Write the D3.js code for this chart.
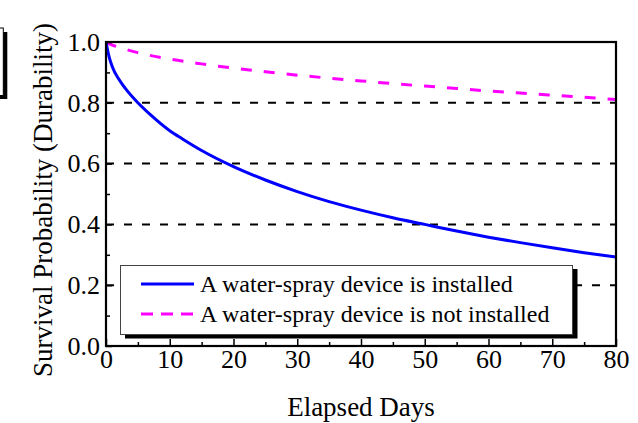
<!DOCTYPE html>
<html>
<head>
<meta charset="utf-8">
<script src="https://cdn.jsdelivr.net/npm/d3@7"></script>
<style>
  body { margin: 0; background: #fff; }
  svg { display: block; }
  svg text { font-family: "Liberation Serif", "Times New Roman", serif !important; fill: #000; }
</style>
</head>
<body>
<svg id="chart" width="638" height="423"></svg>
<script>
// Values
const daysInstalled = [0, 0.5, 1, 2, 3, 5, 7, 10, 12, 15, 20, 25, 30, 35, 40, 45, 50, 55, 60, 65, 70, 75, 80];
const survivalInstalled = [1.0, 0.95, 0.918, 0.878, 0.848, 0.80, 0.76, 0.708, 0.681, 0.643, 0.59, 0.546, 0.508, 0.475, 0.447, 0.422, 0.40, 0.378, 0.358, 0.340, 0.323, 0.307, 0.293];

const daysNotInstalled = [0, 1, 2, 5, 10, 15, 20, 25, 30, 35, 40, 45, 50, 55, 60, 65, 70, 75, 80];
const survivalNotInstalled = [1.0, 0.99, 0.983, 0.965, 0.944, 0.928, 0.914, 0.902, 0.891, 0.881, 0.872, 0.863, 0.855, 0.847, 0.839, 0.832, 0.825, 0.818, 0.811];

const xTicks = [0, 10, 20, 30, 40, 50, 60, 70, 80];
const yTicks = [0.0, 0.2, 0.4, 0.6, 0.8, 1.0];
const gridValues = [0.2, 0.4, 0.6, 0.8];

const seriesNames = ["A water-spray device is installed", "A water-spray device is not installed"];
const seriesColors = ["#0000ff", "#ff00ff"];

const serif = "'Liberation Serif', 'Times New Roman', serif";

const svg = d3.select("#chart");

// plot area in pixels
const plotLeft = 106, plotRight = 616, plotTop = 42, plotBottom = 346;

const x = d3.scaleLinear().domain([0, 80]).range([plotLeft, plotRight]);
const y = d3.scaleLinear().domain([0, 1]).range([plotBottom, plotTop]);

// clipped box at the far left edge of the original figure
svg.append("rect")
    .attr("x", -20).attr("y", 32).attr("width", 27.3).attr("height", 67)
    .attr("fill", "#000");
svg.append("rect")
    .attr("x", -20).attr("y", 28).attr("width", 23.3).attr("height", 67.5)
    .attr("fill", "#fff").attr("stroke", "#000").attr("stroke-width", 1);

svg.append("clipPath").attr("id", "plotClip")
  .append("rect")
    .attr("x", plotLeft).attr("y", plotTop)
    .attr("width", plotRight - plotLeft).attr("height", plotBottom - plotTop);

// dashed gridlines
svg.selectAll(".grid")
    .data(gridValues)
    .enter().append("line")
    .attr("class", "grid")
    .attr("x1", plotLeft).attr("x2", plotRight)
    .attr("y1", d => y(d)).attr("y2", d => y(d))
    .attr("stroke", "#000")
    .attr("stroke-width", 2)
    .attr("stroke-dasharray", "8,10");

// curves
const line = d3.line()
    .x(d => x(d[0]))
    .y(d => y(d[1]))
    .curve(d3.curveMonotoneX);

const installed = daysInstalled.map((d, i) => [d, survivalInstalled[i]]);
const notInstalled = daysNotInstalled.map((d, i) => [d, survivalNotInstalled[i]]);

const plot = svg.append("g").attr("clip-path", "url(#plotClip)");

plot.append("path")
    .datum(notInstalled)
    .attr("d", line)
    .attr("fill", "none")
    .attr("stroke", seriesColors[1])
    .attr("stroke-width", 3)
    .attr("stroke-dasharray", "11,12");

plot.append("path")
    .datum(installed)
    .attr("d", line)
    .attr("fill", "none")
    .attr("stroke", seriesColors[0])
    .attr("stroke-width", 3);

// minor ticks (inward)
svg.append("g")
    .attr("transform", `translate(0,${plotBottom})`)
    .call(d3.axisBottom(x).tickValues(d3.range(5, 80, 10)).tickSizeInner(-4).tickSizeOuter(0).tickFormat(""))
    .call(g => g.select(".domain").remove())
    .selectAll("line").attr("stroke-width", 1.5);

svg.append("g")
    .attr("transform", `translate(${plotLeft},0)`)
    .call(d3.axisLeft(y).tickValues(d3.range(0.1, 1, 0.2)).tickSizeInner(-4).tickSizeOuter(0).tickFormat(""))
    .call(g => g.select(".domain").remove())
    .selectAll("line").attr("stroke-width", 1.5);

// major ticks and labels
const xAxis = svg.append("g")
    .attr("transform", `translate(0,${plotBottom})`)
    .attr("font-family", serif)
    .call(d3.axisBottom(x).tickValues(xTicks).tickSizeInner(-7).tickSizeOuter(0).tickPadding(4).tickFormat(d3.format("d")));
xAxis.attr("font-family", serif);
xAxis.select(".domain").remove();
xAxis.selectAll("line").attr("stroke-width", 1.5);
xAxis.selectAll("text")
    .attr("font-family", serif)
    .attr("font-size", 26);

const yAxis = svg.append("g")
    .attr("transform", `translate(${plotLeft},0)`)
    .call(d3.axisLeft(y).tickValues(yTicks).tickSizeInner(-6).tickSizeOuter(0).tickPadding(6).tickFormat(d3.format(".1f")));
yAxis.attr("font-family", serif);
yAxis.select(".domain").remove();
yAxis.selectAll("line").attr("stroke-width", 1.5);
yAxis.selectAll("text")
    .attr("font-family", serif)
    .attr("font-size", 26);

// frame
svg.append("rect")
    .attr("x", plotLeft).attr("y", plotTop)
    .attr("width", plotRight - plotLeft).attr("height", plotBottom - plotTop)
    .attr("fill", "none")
    .attr("stroke", "#000")
    .attr("stroke-width", 2.2);

// axis titles
svg.append("text")
    .attr("x", (plotLeft + plotRight) / 2)
    .attr("y", 416)
    .attr("text-anchor", "middle")
    .attr("font-family", serif)
    .attr("font-size", 27)
    .text("Elapsed Days");

svg.append("text")
    .attr("transform", "translate(52,200) rotate(-90)")
    .attr("text-anchor", "middle")
    .attr("font-family", serif)
    .attr("font-size", 27)
    .text("Survival Probability (Durability)");

// legend with drop shadow
const legend = svg.append("g");
legend.append("rect")
    .attr("x", 125).attr("y", 269).attr("width", 452.5).attr("height", 69.5)
    .attr("fill", "#000");
legend.append("rect")
    .attr("x", 120.5).attr("y", 265.5).attr("width", 452).attr("height", 69)
    .attr("fill", "#fff")
    .attr("stroke", "#444")
    .attr("stroke-width", 1);

const legendRows = [284, 314];
seriesNames.forEach((name, i) => {
  legend.append("line")
      .attr("x1", 141).attr("x2", 194)
      .attr("y1", legendRows[i]).attr("y2", legendRows[i])
      .attr("stroke", seriesColors[i])
      .attr("stroke-width", 3)
      .attr("stroke-dasharray", i === 1 ? "12,8" : null);
  legend.append("text")
      .attr("x", 200)
      .attr("y", legendRows[i])
      .attr("dy", "0.35em")
      .attr("font-family", serif)
      .attr("font-size", 24)
      .text(name);
});
</script>
</body>
</html>
